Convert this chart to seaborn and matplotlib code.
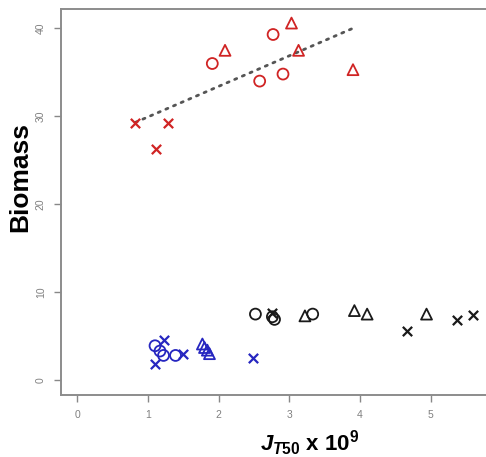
import numpy as np
import pandas as pd
import matplotlib
matplotlib.use("Agg")
import matplotlib.pyplot as plt
import seaborn as sns

sns.set_style("white")
plt.rcParams['font.family'] = ['Liberation Sans', 'DejaVu Sans']
plt.rcParams['mathtext.fontset'] = 'custom'
plt.rcParams['mathtext.it'] = 'Liberation Sans:italic:bold'
plt.rcParams['mathtext.rm'] = 'Liberation Sans:bold'
plt.rcParams['mathtext.bf'] = 'Liberation Sans:bold'

# Red group
red_circle_x = [1.91, 2.58, 2.77, 2.91]
red_circle_y = [36.0, 34.0, 39.3, 34.8]
red_tri_x = [2.09, 3.03, 3.13, 3.90]
red_tri_y = [37.5, 40.6, 37.5, 35.3]
red_cross_x = [0.82, 1.28, 1.11]
red_cross_y = [29.2, 29.2, 26.3]

# Blue group
blue_circle_x = [1.10, 1.17, 1.22, 1.39]
blue_circle_y = [3.9, 3.3, 2.8, 2.8]
blue_tri_x = [1.77, 1.80, 1.84, 1.87]
blue_tri_y = [4.1, 3.7, 3.4, 3.0]
blue_cross_x = [1.23, 1.10, 1.50, 2.49]
blue_cross_y = [4.6, 1.8, 3.0, 2.5]

# Black group
black_circle_x = [2.52, 2.76, 2.79, 3.33]
black_circle_y = [7.5, 7.2, 6.9, 7.5]
black_tri_x = [3.22, 3.92, 4.10, 4.94]
black_tri_y = [7.3, 7.9, 7.5, 7.5]
black_cross_x = [2.76, 4.67, 5.37, 5.60]
black_cross_y = [7.65, 5.6, 6.8, 7.4]

x_ticks = [0, 1, 2, 3, 4, 5]
y_ticks = [0, 10, 20, 30, 40]

RED = '#d02424'
BLUE = '#2626c0'
BLACK = '#1a1a1a'

fig = plt.figure(figsize=(4.86, 4.57), dpi=100)
ax = fig.add_axes([61/486, 1 - 395/457, 1 - 61/486 + 0.01, (395 - 9)/457])

groups = [
    (RED, red_circle_x, red_circle_y, red_tri_x, red_tri_y, red_cross_x, red_cross_y),
    (BLUE, blue_circle_x, blue_circle_y, blue_tri_x, blue_tri_y, blue_cross_x, blue_cross_y),
    (BLACK, black_circle_x, black_circle_y, black_tri_x, black_tri_y, black_cross_x, black_cross_y),
]
for col, cx, cy, tx, ty, xx, xy in groups:
    sns.scatterplot(x=cx, y=cy, marker='o', s=62, color=col, facecolor='none',
                    edgecolor=col, linewidth=1.3, ax=ax, zorder=3)
    sns.scatterplot(x=tx, y=ty, marker='^', s=62, color=col, facecolor='none',
                    edgecolor=col, linewidth=1.3, ax=ax, zorder=3)
    sns.scatterplot(x=xx, y=xy, marker='x', s=45, color=col, linewidth=1.6,
                    ax=ax, zorder=3)

sns.regplot(x=np.array(red_circle_x + red_tri_x + red_cross_x),
            y=np.array(red_circle_y + red_tri_y + red_cross_y),
            scatter=False, ci=None, ax=ax,
            line_kws=dict(color='#555555', lw=2.0, linestyle=(0, (0.8, 2.2)),
                          dash_capstyle='round', zorder=2))

ax.set_xlim(-0.23, 5.85)
ax.set_ylim(-1.7, 42.2)
ax.set_xticks(x_ticks)
ax.set_yticks(y_ticks)
ax.set_xticklabels([str(v) for v in x_ticks])
ax.set_yticklabels([str(v) for v in y_ticks], rotation=90, va='center')
ax.tick_params(axis='both', which='major', length=5, width=1.0, color='#888888',
               labelcolor='#808080', labelsize=7.5, bottom=True, left=True, pad=6)

for side in ['left', 'top', 'bottom']:
    ax.spines[side].set_color('#8c8c8c')
    ax.spines[side].set_linewidth(1.4)
ax.spines['right'].set_visible(False)

ax.set_ylabel('Biomass', fontsize=19, fontweight='bold', color='black')
ax.yaxis.set_label_coords(-0.066, 0.565)
ax.set_xlabel(r'$J_{T50}$ x 10$^{9}$', fontsize=16, fontweight='bold', color='black')
ax.xaxis.set_label_coords(0.579, -0.088)

fig.savefig('out.png', dpi=100)
